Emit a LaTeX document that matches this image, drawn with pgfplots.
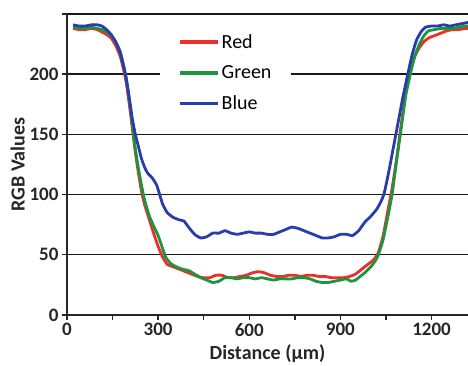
\documentclass[border=0pt]{standalone}
\usepackage{fontspec}
\setmainfont{Carlito}
\usepackage{pgfplots}
\pgfplotsset{compat=1.18}
\definecolor{cred}{RGB}{236,48,40}
\definecolor{cgreen}{RGB}{28,148,64}
\definecolor{cblue}{RGB}{40,60,172}
\begin{document}
\begin{tikzpicture}[x=1pt,y=1pt]
\path[use as bounding box] (-67,-51) rectangle (401,315);
\begin{axis}[
  at={(0,0)}, anchor=south west,
  scale only axis, width=401pt, height=301pt,
  xmin=0, xmax=1320, ymin=0, ymax=250,
  axis x line*=bottom, axis y line*=left,
  axis line style={line width=1.6pt, color=black!85},
  xtick={0,300,600,900,1200}, minor xtick={150,450,750,1050},
  ytick={0,50,100,150,200,250}, yticklabels={0,50,100,150,200,},
  tick align=outside, major tick length=5pt, minor tick length=5pt,
  tick style={line width=1.4pt, color=black!85},
  ymajorgrids, grid style={line width=1.4pt, color=black!90},
  tick label style={font=\fontsize{19}{19}\selectfont\bfseries, color=black!85},
  /pgf/number format/assume math mode=true,
  /pgf/number format/1000 sep={},
  xlabel={Distance (µm)}, ylabel={RGB Values},
  label style={font=\fontsize{20}{20}\selectfont\bfseries, color=black!85},
  xlabel style={yshift=-1pt}, ylabel style={yshift=-2pt},
  legend style={draw=none, fill=white, at={(0.232,0.957)}, anchor=north west,
    font=\fontsize{20}{20}\selectfont, inner xsep=18pt, inner ysep=5pt,
    row sep=12pt, cells={anchor=west}},
  legend image code/.code={\draw[line width=3.5pt] (0pt,0pt) -- (38pt,0pt);},
  every axis plot/.append style={line width=2.8pt, line join=round},
]
\addplot[cred, smooth, tension=0.3] coordinates {
(20,238)(40,237)(60,237)(80,238)(100,237)(115,235)(130,233)(145,230)(160,224)(175,215)(185,205)(195,193)(205,175)(215,155)(225,135)(235,118)(245,103)(255,92)(270,80)(285,68)(300,57)(315,48)(330,42)(350,40)(370,38)(390,36)(410,34)(430,32)(450,31)(470,31)(490,33)(510,33)(530,31)(550,31)(570,32)(590,33)(610,35)(630,36)(650,35)(670,33)(690,32)(710,32)(730,33)(750,33)(770,32)(790,33)(810,33)(830,32)(850,32)(870,31)(890,31)(910,31)(930,32)(950,34)(970,38)(990,42)(1010,46)(1025,52)(1040,65)(1055,85)(1070,105)(1085,130)(1100,158)(1115,185)(1130,203)(1145,215)(1160,222)(1175,227)(1190,230)(1210,232)(1230,234)(1250,236)(1270,237)(1290,237)(1310,238)(1320,238)};
\addlegendentry{Red}
\addplot[cgreen, smooth, tension=0.3] coordinates {
(20,239)(40,238)(60,238)(80,239)(100,238)(115,237)(130,235)(145,232)(160,227)(175,219)(185,209)(195,197)(205,180)(215,158)(225,138)(235,122)(245,108)(255,96)(270,83)(285,74)(300,66)(315,55)(325,48)(340,43)(360,40)(380,38)(400,37)(420,34)(440,31)(460,29)(480,27)(500,28)(520,31)(540,31)(560,30)(580,31)(600,31)(620,30)(640,31)(660,30)(680,29)(700,30)(720,30)(740,30)(760,31)(780,31)(800,30)(820,28)(840,27)(860,27)(880,28)(900,29)(920,30)(935,28)(950,29)(965,32)(980,35)(1000,40)(1015,45)(1025,50)(1040,62)(1055,80)(1070,100)(1085,128)(1100,155)(1115,182)(1130,200)(1145,215)(1160,225)(1175,232)(1190,236)(1210,237)(1230,238)(1250,238)(1270,238)(1290,239)(1310,240)(1320,240)};
\addlegendentry{Green}
\addplot[cblue, smooth, tension=0.3] coordinates {
(20,241)(40,240)(60,240)(80,241)(100,241)(115,240)(130,237)(145,233)(160,227)(175,218)(185,208)(195,196)(205,180)(215,163)(225,150)(235,140)(245,130)(255,123)(265,118)(280,114)(295,108)(305,100)(315,92)(330,85)(350,81)(370,79)(385,78)(400,73)(420,67)(440,64)(460,65)(480,68)(500,68)(520,70)(540,68)(560,67)(580,68)(600,69)(620,68)(640,68)(660,67)(680,67)(700,69)(720,71)(740,73)(760,72)(780,70)(800,68)(820,66)(840,64)(860,64)(880,65)(900,67)(920,67)(940,66)(960,70)(980,77)(1000,82)(1020,88)(1035,95)(1045,102)(1060,120)(1075,140)(1090,160)(1105,180)(1120,198)(1135,215)(1150,228)(1165,235)(1180,239)(1200,240)(1220,240)(1240,241)(1260,240)(1280,241)(1300,242)(1320,243)};
\addlegendentry{Blue}
\end{axis}
\end{tikzpicture}
\end{document}
